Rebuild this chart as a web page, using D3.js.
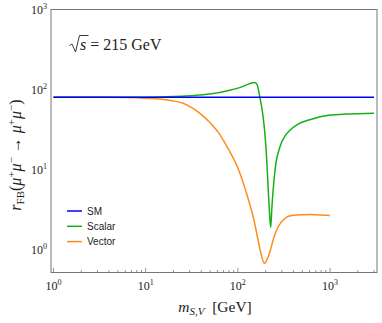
<!DOCTYPE html>
<html>
<head>
<meta charset="utf-8">
<script src="https://cdn.jsdelivr.net/npm/d3@7"></script>
<style>
  body { margin: 0; background: #fff; }
  svg text { font-family: "Liberation Serif", "DejaVu Serif", serif; fill: #222; }
  .legend text { font-family: "Liberation Sans", Arial, sans-serif; font-size: 10px; }
</style>
</head>
<body>
<div id="chart"></div>
<script>
// values
const smMass = [1, 10, 100, 1000, 3000];
const smR = [80, 80, 80, 80, 80];

const scalarMass = [1, 10, 20, 30, 50, 82, 110, 130, 145, 153, 162, 173, 185, 195, 205, 213, 220, 227, 234, 253, 286, 330, 367, 450, 604, 1000, 1500, 2000, 3000];
const scalarR = [80, 80.5, 82, 84, 88, 98, 108, 117, 121.5, 123, 115, 81, 52, 31, 14, 6, 3, 1.9, 3.4, 9.9, 19.3, 27, 31, 37, 42, 48, 49.5, 50, 50.5];

const vectorMass = [1, 4, 8, 12, 16, 20, 25, 32, 40, 50, 63, 79, 100, 126, 150, 165, 178, 194, 210, 223, 245, 263, 290, 311, 352, 434, 600, 800, 1000];
const vectorR = [80, 80, 79, 77.5, 75, 72, 68, 59, 49, 38.5, 28, 18, 10.5, 4.8, 2.3, 1.35, 0.9, 0.68, 0.78, 0.95, 1.4, 1.75, 2.15, 2.35, 2.62, 2.72, 2.75, 2.72, 2.68];

const xTickExps = [0, 1, 2, 3];
const yTickExps = [0, 1, 2, 3];

const series = [
  { name: 'SM', color: '#0000ff', mass: smMass, r: smR },
  { name: 'Scalar', color: '#16b016', mass: scalarMass, r: scalarR },
  { name: 'Vector', color: '#ff8c1a', mass: vectorMass, r: vectorR }
];

const W = 382, H = 323;
const mLeft = 51, mRight = 377, mTop = 9.5, mBottom = 272.5;

const svg = d3.select('#chart').append('svg')
  .attr('width', W).attr('height', H)
  .attr('viewBox', `0 0 ${W} ${H}`);

const x = d3.scaleLog().domain([0.94, 3230]).range([mLeft, mRight]);
const y = d3.scaleLog().domain([0.52, 1000]).range([mBottom, mTop]);

// curves
const line = d3.line()
  .x((d) => x(d[0]))
  .y((d) => y(d[1]))
  .curve(d3.curveMonotoneX);

const plot = svg.append('g');
plot.append('clipPath').attr('id', 'clip')
  .append('rect').attr('x', mLeft).attr('y', mTop).attr('width', mRight - mLeft).attr('height', mBottom - mTop);

// draw orange first, then green, blue on top
[series[2], series[1], series[0]].forEach((s) => {
  plot.append('path')
    .attr('clip-path', 'url(#clip)')
    .attr('d', line(s.mass.map((m, i) => [m, s.r[i]])))
    .attr('fill', 'none')
    .attr('stroke', s.color)
    .attr('stroke-width', 1.5)
    .attr('stroke-linejoin', 'round');
});

// frame
svg.append('rect')
  .attr('x', mLeft).attr('y', mTop)
  .attr('width', mRight - mLeft).attr('height', mBottom - mTop)
  .attr('fill', 'none').attr('stroke', '#777').attr('stroke-width', 1);

// x ticks (major + minor)
const xMinor = [];
for (let e = 0; e <= 3; e++) for (let k = 1; k <= 9; k++) {
  const v = k * Math.pow(10, e);
  if (v <= 3000) xMinor.push(v);
}
svg.append('g').selectAll('line').data(xMinor).join('line')
  .attr('x1', (d) => x(d)).attr('x2', (d) => x(d))
  .attr('y1', mBottom)
  .attr('y2', (d) => mBottom - (Math.log10(d) % 1 === 0 ? 4.5 : 2.5))
  .attr('stroke', '#777').attr('stroke-width', 0.8);

// tick labels with superscripts
const xl = svg.append('g').selectAll('text').data(xTickExps).join('text')
  .attr('x', (d) => x(Math.pow(10, d)))
  .attr('y', 290)
  .attr('text-anchor', 'middle')
  .attr('font-size', 12);
xl.append('tspan').text('10');
xl.append('tspan').attr('dy', -5).attr('font-size', 8).text((d) => d);

const yl = svg.append('g').selectAll('text').data(yTickExps).join('text')
  .attr('x', 47)
  .attr('y', (d) => y(Math.pow(10, d)) + 4)
  .attr('text-anchor', 'end')
  .attr('font-size', 12);
yl.append('tspan').text('10');
yl.append('tspan').attr('dy', -5).attr('font-size', 8).text((d) => d);

// x axis title
const xt = svg.append('text')
  .attr('x', 215).attr('y', 312)
  .attr('text-anchor', 'middle')
  .attr('font-size', 15.5);
xt.append('tspan').attr('font-style', 'italic').text('m');
xt.append('tspan').attr('font-style', 'italic').attr('font-size', 11).attr('dy', 3).text('S,V');
xt.append('tspan').attr('dy', -3).text('\u2002[GeV]');

// y axis title
const yt = svg.append('text')
  .attr('transform', 'translate(21,155) rotate(-90)')
  .attr('text-anchor', 'middle')
  .attr('font-size', 16);
const sup = (t) => yt.append('tspan').attr('font-size', 11).attr('dy', -6).text(t);
const base = (t, it) => yt.append('tspan').attr('font-style', it ? 'italic' : null).attr('dy', 6).text(t);
yt.append('tspan').attr('font-style', 'italic').text('r');
yt.append('tspan').attr('font-size', 11).attr('dy', 3).text('FB');
yt.append('tspan').attr('dy', -3).text('(');
yt.append('tspan').attr('font-style', 'italic').text('μ');
sup('+'); base('μ', true); sup('−');
base(' → ', false);
yt.append('tspan').attr('font-style', 'italic').text('μ');
sup('+'); base('μ', true); sup('−');
base(')', false);

// sqrt(s) annotation
svg.append('path')
  .attr('d', 'M69.5,45.5 L72,44 L75.5,52 L79.5,35.5 L88.5,35.5')
  .attr('fill', 'none').attr('stroke', '#222').attr('stroke-width', 0.9);
const ann = svg.append('text')
  .attr('x', 80).attr('y', 50)
  .attr('font-size', 16);
ann.append('tspan').attr('font-style', 'italic').text('s');
ann.append('tspan').text(' = 215 GeV');

// legend
const lg = svg.append('g').attr('class', 'legend');
series.forEach((s, i) => {
  const ly = 211 + i * 15.3;
  lg.append('line')
    .attr('x1', 67).attr('x2', 82).attr('y1', ly).attr('y2', ly)
    .attr('stroke', s.color).attr('stroke-width', 1.5);
  lg.append('text').attr('x', 87).attr('y', ly + 3.5).text(s.name);
});
</script>
</body>
</html>
